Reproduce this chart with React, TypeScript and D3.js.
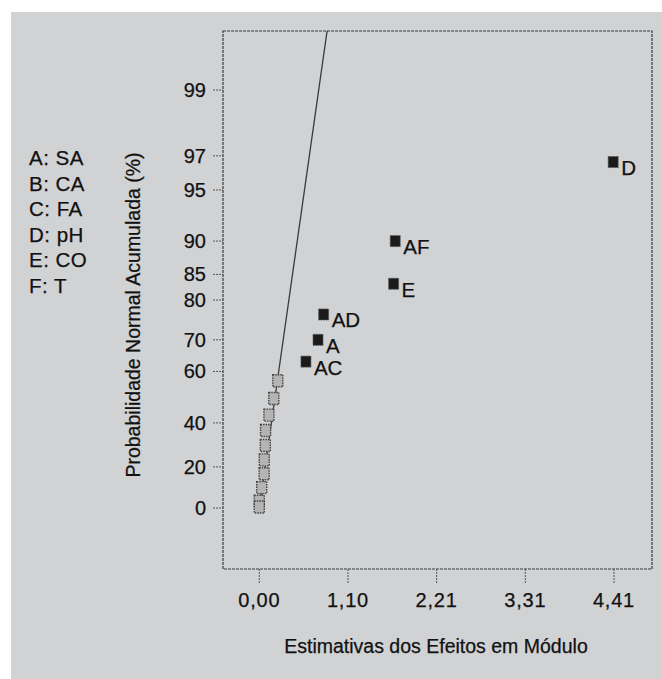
import React, { useEffect, useRef } from "react";
import * as d3 from "d3";

// significant effects (black squares)
const effectLabels = ["D", "AF", "E", "AD", "A", "AC"];
const effectValues = [4.4, 1.69, 1.67, 0.8, 0.73, 0.58];
const effectProbs = [96.7, 90, 83.3, 76.7, 70, 63.3];

// remaining effects (gray squares along the line)
const minorValues = [0.23, 0.18, 0.12, 0.078, 0.075, 0.062, 0.06, 0.03, 0.0, 0.0];
const minorProbs = [56.7, 50, 43.3, 36.7, 30, 23.3, 16.7, 10, 3.3, 0.5];

// reference line (effect, probability)
const lineValues = [0, 0.845];
const lineProbs = [0, 99.68];

const yTicks = [0, 20, 40, 60, 70, 80, 85, 90, 95, 97, 99];
const xTicks = [0, 1.1025, 2.205, 3.3075, 4.41];
const xTickLabels = ["0,00", "1,10", "2,21", "3,31", "4,41"];

const legendItems = ["A: SA", "B: CA", "C: FA", "D: pH", "E: CO", "F: T"];

// inverse normal cdf (Acklam)
const probit = (p: number) => {
  const a = [-39.69683028665376, 220.9460984245205, -275.9285104469687, 138.357751867269, -30.66479806614716, 2.506628277459239];
  const b = [-54.47609879822406, 161.5858368580409, -155.6989798598866, 66.80131188771972, -13.28068155288572];
  const c = [-0.007784894002430293, -0.3223964580411365, -2.400758277161838, -2.549732539343734, 4.374664141464968, 2.938163982698783];
  const d = [0.007784695709041462, 0.3224671290700398, 2.445134137142996, 3.754408661907416];
  const pl = 0.02425;
  if (p < pl) {
    const q = Math.sqrt(-2 * Math.log(p));
    return (((((c[0] * q + c[1]) * q + c[2]) * q + c[3]) * q + c[4]) * q + c[5]) / ((((d[0] * q + d[1]) * q + d[2]) * q + d[3]) * q + 1);
  }
  if (p > 1 - pl) {
    const q = Math.sqrt(-2 * Math.log(1 - p));
    return -(((((c[0] * q + c[1]) * q + c[2]) * q + c[3]) * q + c[4]) * q + c[5]) / ((((d[0] * q + d[1]) * q + d[2]) * q + d[3]) * q + 1);
  }
  const q = p - 0.5;
  const r = q * q;
  return ((((((a[0] * r + a[1]) * r + a[2]) * r + a[3]) * r + a[4]) * r + a[5]) * q) / (((((b[0] * r + b[1]) * r + b[2]) * r + b[3]) * r + b[4]) * r + 1);
};

// half-normal probability -> z
const halfZ = (pct: number) => probit(0.5 + pct / 200);

const App = () => {
  const ref = useRef<SVGSVGElement>(null);

  useEffect(() => {
    const width = 662;
    const height = 679;
    const frame = { left: 223, right: 652, top: 31, bottom: 569 };
    const font = "'Liberation Sans', Arial, sans-serif";
    const ink = "#111";

    const svg = d3.select(ref.current).attr("width", width).attr("height", height);
    svg.selectAll("*").remove();

    svg
      .append("rect")
      .attr("x", 11)
      .attr("y", 12)
      .attr("width", width - 11)
      .attr("height", height - 12)
      .attr("fill", "#d1d2d4");

    const x = d3.scaleLinear().domain([0, 4.41]).range([259.3, 614]);
    const yz = d3.scaleLinear().domain([0, 2.576]).range([508, 90]);
    const y = (p: number) => yz(halfZ(p));

    svg
      .append("defs")
      .append("clipPath")
      .attr("id", "plot-clip")
      .append("rect")
      .attr("x", frame.left)
      .attr("y", frame.top)
      .attr("width", frame.right - frame.left)
      .attr("height", frame.bottom - frame.top);

    // shared text style, slightly heavy like the scanned original
    const styleText = (sel: any, size: number) =>
      sel
        .attr("font-family", font)
        .attr("font-size", size)
        .attr("fill", ink)
        .attr("stroke", ink)
        .attr("stroke-width", 0.25);

    // frame
    svg
      .append("rect")
      .attr("x", frame.left)
      .attr("y", frame.top)
      .attr("width", frame.right - frame.left)
      .attr("height", frame.bottom - frame.top)
      .attr("fill", "none")
      .attr("stroke", "#3a3a3a")
      .attr("stroke-width", 1.2)
      .attr("stroke-dasharray", "3 1");

    // y ticks
    const yAxis = svg.append("g");
    yTicks.forEach((t) => {
      yAxis
        .append("line")
        .attr("x1", frame.left - 10)
        .attr("x2", frame.left)
        .attr("y1", y(t))
        .attr("y2", y(t))
        .attr("stroke", "#555")
        .attr("stroke-dasharray", "2 1");
      yAxis
        .append("text")
        .attr("x", frame.left - 17)
        .attr("y", y(t))
        .attr("dy", "0.35em")
        .attr("text-anchor", "end")
        .call(styleText, 20)
        .text(t);
    });

    // x ticks
    const xAxis = svg.append("g");
    xTicks.forEach((t, i) => {
      xAxis
        .append("line")
        .attr("x1", x(t))
        .attr("x2", x(t))
        .attr("y1", frame.bottom)
        .attr("y2", frame.bottom + 14)
        .attr("stroke", "#555")
        .attr("stroke-dasharray", "2 1");
      xAxis
        .append("text")
        .attr("x", x(t))
        .attr("y", 607)
        .attr("text-anchor", "middle")
        .attr("letter-spacing", 0.8)
        .call(styleText, 20)
        .text(xTickLabels[i]);
    });

    // axis titles
    svg
      .append("text")
      .attr("x", 436)
      .attr("y", 653)
      .attr("text-anchor", "middle")
      .call(styleText, 19.5)
      .text("Estimativas dos Efeitos em Módulo");

    svg
      .append("text")
      .attr("transform", "translate(140,315) rotate(-90)")
      .attr("text-anchor", "middle")
      .call(styleText, 19.5)
      .text("Probabilidade Normal Acumulada (%)");

    // legend
    svg
      .append("g")
      .selectAll("text")
      .data(legendItems)
      .join("text")
      .attr("x", 29)
      .attr("y", (_, i) => 165 + i * 25.5)
      .attr("letter-spacing", 0.5)
      .call(styleText, 20.5)
      .text((d) => d);

    // reference line
    const lineData = lineValues.map((v, i) => [x(v), y(lineProbs[i])] as [number, number]);
    svg
      .append("path")
      .attr("clip-path", "url(#plot-clip)")
      .attr("d", d3.line()(lineData))
      .attr("fill", "none")
      .attr("stroke", "#3a3a3a")
      .attr("stroke-width", 1.3);

    // minor effects
    svg
      .append("g")
      .selectAll("rect")
      .data(minorValues)
      .join("rect")
      .attr("x", (d) => x(d) - 5)
      .attr("y", (_, i) => y(minorProbs[i]) - 6)
      .attr("width", 10)
      .attr("height", 12)
      .attr("fill", "#b4b4b4")
      .attr("stroke", "#444")
      .attr("stroke-width", 1.4)
      .attr("stroke-dasharray", "1.5 1");

    // significant effects
    const sig = svg.append("g");
    effectValues.forEach((v, i) => {
      const cx = x(v);
      const cy = y(effectProbs[i]);
      sig
        .append("rect")
        .attr("x", cx - 5)
        .attr("y", cy - 5.5)
        .attr("width", 10)
        .attr("height", 11)
        .attr("fill", "#1a1a1a")
        .attr("stroke", "#555")
        .attr("stroke-width", 1)
        .attr("stroke-dasharray", "1.5 1");
      sig
        .append("text")
        .attr("x", cx + 8)
        .attr("y", cy + 13)
        .call(styleText, 20.5)
        .text(effectLabels[i]);
    });
  }, []);

  return (
    <div style={{ position: "absolute", left: 0, top: 0 }}>
      <svg ref={ref} style={{ display: "block" }} />
    </div>
  );
};

export default App;
